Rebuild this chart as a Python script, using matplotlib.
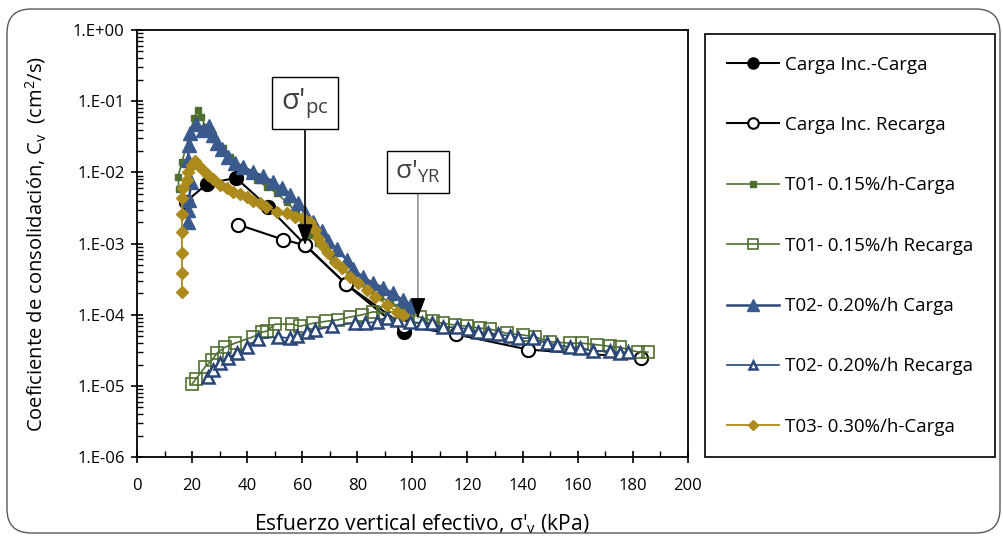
import matplotlib
matplotlib.use("Agg")
import matplotlib.pyplot as plt
from matplotlib.lines import Line2D
from matplotlib.patches import FancyBboxPatch
from matplotlib.ticker import FixedLocator, LogLocator, MultipleLocator, NullFormatter

plt.rcParams['font.family'] = ['Open Sans', 'DejaVu Sans']
plt.rcParams['mathtext.fontset'] = 'custom'
plt.rcParams['mathtext.rm'] = 'Open Sans'
plt.rcParams['mathtext.it'] = 'Open Sans:italic'
plt.rcParams['mathtext.bf'] = 'Open Sans:bold'

# --- datos ---
inc_carga_x = [17.8, 25.4, 35.9, 47.5, 61.0, 75.9, 96.9]
inc_carga_y = [3.9e-3, 6.9e-3, 8.4e-3, 3.3e-3, 9.7e-4, 2.7e-4, 5.8e-5]

inc_rec_x = [36.7, 53.0, 61.0, 75.9, 96.9, 116.0, 142.0, 183.0]
inc_rec_y = [1.85e-3, 1.14e-3, 9.5e-4, 2.7e-4, 7.0e-5, 5.3e-5, 3.25e-5, 2.5e-5]

t01_carga_x = [15.2, 14.9, 16.3, 20.7, 22.1, 23.2, 25.0, 27.6, 31.2, 33.8, 37.4, 41.0,
               43.6, 47.2, 50.8, 54.4, 57.7, 60.3, 62.8, 65.7, 68.2, 71.1, 74.0, 77.3,
               80.9, 84.6, 88.2, 91.8, 95.5, 98.4]
t01_carga_y = [5.9e-3, 8.7e-3, 1.4e-2, 5.8e-2, 7.6e-2, 6.0e-2, 4.4e-2, 2.9e-2, 2.2e-2,
               1.65e-2, 1.2e-2, 9.2e-3, 7.8e-3, 6.2e-3, 5.1e-3, 3.8e-3, 2.8e-3, 1.8e-3,
               1.3e-3, 1.02e-3, 8.3e-4, 6.3e-4, 4.9e-4, 3.6e-4, 2.8e-4, 2.2e-4, 1.8e-4,
               1.5e-4, 1.3e-4, 1.17e-4]

t01_rec_x = [20.0, 21.4, 24.7, 27.2, 29.0, 31.9, 35.6, 42.1, 45.4, 47.2, 50.1, 56.3,
             59.2, 63.9, 68.6, 73.0, 77.3, 81.7, 85.7, 89.3, 92.9, 98.0, 102.7, 107.4,
             111.0, 115.4, 119.8, 124.5, 128.1, 134.3, 140.1, 144.5, 149.9, 157.2,
             161.5, 167.0, 171.7, 175.3, 182.0, 185.5]
t01_rec_y = [1.07e-5, 1.26e-5, 1.85e-5, 2.3e-5, 2.9e-5, 3.5e-5, 4.0e-5, 4.9e-5, 5.7e-5,
             5.9e-5, 7.4e-5, 7.4e-5, 6.9e-5, 7.6e-5, 8.1e-5, 8.5e-5, 9.3e-5, 1.0e-4,
             1.1e-4, 1.07e-4, 1.1e-4, 1.07e-4, 9.3e-5, 8.2e-5, 7.6e-5, 7.2e-5, 6.9e-5,
             6.5e-5, 6.3e-5, 5.5e-5, 5.2e-5, 4.9e-5, 4.2e-5, 4.0e-5, 4.0e-5, 3.8e-5,
             3.6e-5, 3.5e-5, 3.0e-5, 3.0e-5]

t02_carga_x = [18.5, 18.5, 18.9, 19.6, 18.5, 18.9, 19.2, 21.4, 24.0, 26.1, 27.6, 29.0,
               30.9, 33.0, 35.6, 38.5, 42.1, 45.7, 49.4, 52.6, 55.5, 58.4, 61.0, 63.9,
               67.2, 69.3, 72.6, 76.2, 78.4, 82.0, 85.7, 89.3, 92.9, 96.6, 99.1]
t02_carga_y = [2.0e-3, 3.0e-3, 4.1e-3, 7.4e-3, 1.5e-2, 2.4e-2, 3.6e-2, 4.8e-2, 4.0e-2,
               4.5e-2, 3.4e-2, 2.6e-2, 2.1e-2, 1.65e-2, 1.35e-2, 1.2e-2, 1.02e-2, 8.9e-3,
               7.4e-3, 6.0e-3, 4.8e-3, 3.7e-3, 2.7e-3, 2.0e-3, 1.5e-3, 1.1e-3, 8.3e-4,
               5.9e-4, 4.4e-4, 3.4e-4, 2.8e-4, 2.4e-4, 2.0e-4, 1.6e-4, 1.33e-4]

t02_rec_x = [25.8, 27.6, 30.1, 33.0, 36.3, 39.9, 43.9, 51.2, 55.5, 58.1, 61.7, 64.6,
             70.8, 79.1, 82.8, 87.1, 90.7, 94.4, 99.1, 103.4, 107.1, 111.1, 116.2,
             120.1, 123.8, 127.4, 131.0, 135.4, 138.3, 143.7, 148.8, 152.5, 157.2,
             160.8, 165.5, 171.7, 175.3, 178.2]
t02_rec_y = [1.34e-5, 1.67e-5, 2.1e-5, 2.5e-5, 2.9e-5, 3.5e-5, 4.6e-5, 4.9e-5, 4.7e-5,
             5.0e-5, 5.7e-5, 6.1e-5, 6.9e-5, 7.7e-5, 7.7e-5, 7.9e-5, 9.1e-5, 8.5e-5,
             7.9e-5, 7.7e-5, 7.7e-5, 6.7e-5, 6.7e-5, 6.3e-5, 5.7e-5, 5.5e-5, 5.4e-5,
             5.0e-5, 4.7e-5, 4.7e-5, 4.0e-5, 3.8e-5, 3.5e-5, 3.4e-5, 3.1e-5, 3.1e-5,
             2.9e-5, 3.0e-5]

t03_carga_x = [16.3, 16.3, 16.3, 16.3, 16.3, 16.3, 16.7, 18.1, 18.5, 20.0, 21.0, 22.1,
               24.0, 25.8, 27.6, 30.1, 32.7, 34.8, 37.4, 39.9, 42.1, 44.6, 46.8, 50.8,
               54.4, 57.4, 60.3, 62.8, 64.6, 65.7, 67.2, 69.3, 71.9, 74.4, 77.3, 80.2,
               83.5, 86.4, 90.7, 94.4, 96.6]
t03_carga_y = [2.1e-4, 3.9e-4, 7.4e-4, 1.45e-3, 2.6e-3, 4.4e-3, 6.0e-3, 7.8e-3, 1.02e-2,
               1.26e-2, 1.45e-2, 1.26e-2, 1.08e-2, 9.2e-3, 8.1e-3, 6.6e-3, 6.0e-3, 5.3e-3,
               5.0e-3, 4.5e-3, 4.0e-3, 3.7e-3, 3.3e-3, 2.8e-3, 2.7e-3, 2.4e-3, 2.3e-3,
               2.0e-3, 1.55e-3, 1.2e-3, 9.5e-4, 7.4e-4, 5.5e-4, 4.6e-4, 3.4e-4, 2.8e-4,
               2.2e-4, 1.8e-4, 1.38e-4, 1.1e-4, 1.0e-4]

ytick_vals = [1e-6, 1e-5, 1e-4, 1e-3, 1e-2, 1e-1, 1e0]
ytick_labels = ["1.E-06", "1.E-05", "1.E-04", "1.E-03", "1.E-02", "1.E-01", "1.E+00"]

GREEN = "#4f7030"
BLUE = "#2a4676"
GOLD = "#ad8a1c"

fig = plt.figure(figsize=(10.04, 5.36), dpi=100)
ax = fig.add_axes([0.1365, 0.147, 0.5485, 0.797])

# marco redondeado exterior (en pixeles)
fig.patches.append(FancyBboxPatch((7, 3), 993, 524, boxstyle="round,pad=0,rounding_size=24",
                                  transform=None, fill=False, edgecolor="#595959", lw=1.0))

series = [
    dict(x=inc_carga_x, y=inc_carga_y, label="Carga Inc.-Carga", color="black", lw=1.5,
         marker="o", ms=10, mfc="black", mec="black", mew=1.0),
    dict(x=inc_rec_x, y=inc_rec_y, label="Carga Inc. Recarga", color="black", lw=1.5,
         marker="o", ms=9.5, mfc="white", mec="black", mew=1.5),
    dict(x=t01_carga_x, y=t01_carga_y, label="T01- 0.15%/h-Carga", color=GREEN, lw=1.2,
         marker="s", ms=5, mfc=GREEN, mec=GREEN, mew=1.0),
    dict(x=t01_rec_x, y=t01_rec_y, label="T01- 0.15%/h Recarga", color=GREEN, lw=1.2,
         marker="s", ms=8.5, mfc="none", mec=GREEN, mew=1.2),
    dict(x=t02_carga_x, y=t02_carga_y, label="T02- 0.20%/h Carga", color=BLUE, lw=1.8,
         marker="^", ms=10, mfc="#3a5a8e", mec="#3a5a8e", mew=1.0),
    dict(x=t02_rec_x, y=t02_rec_y, label="T02- 0.20%/h Recarga", color=BLUE, lw=1.2,
         marker="^", ms=8, mfc="white", mec=BLUE, mew=1.8),
    dict(x=t03_carga_x, y=t03_carga_y, label="T03- 0.30%/h-Carga", color=GOLD, lw=1.3,
         marker="D", ms=6.5, mfc=GOLD, mec=GOLD, mew=1.0),
]

handles = []
for i, s in enumerate(series):
    ax.plot(s["x"], s["y"], color=s["color"], lw=s["lw"], marker=s["marker"],
            ms=s["ms"], mfc=s["mfc"], mec=s["mec"], mew=s["mew"],
            label=s["label"], zorder=3 + i)
    handles.append(Line2D([], [], color=s["color"], lw=s["lw"], marker=s["marker"],
                          ms=s["ms"] * 0.8, mfc=s["mfc"], mec=s["mec"], mew=s["mew"]))

ax.set_yscale("log")
ax.set_ylim(1e-6, 1)
ax.set_xlim(0, 200)
ax.yaxis.set_major_locator(FixedLocator(ytick_vals))
ax.set_yticklabels(ytick_labels)
ax.yaxis.set_minor_locator(LogLocator(base=10, subs=range(2, 10), numticks=20))
ax.yaxis.set_minor_formatter(NullFormatter())
ax.xaxis.set_major_locator(MultipleLocator(20))
ax.xaxis.set_minor_locator(MultipleLocator(10))

ax.tick_params(which="major", direction="inout", length=8, width=1.2, labelsize=12,
               colors="black", pad=5)
ax.tick_params(axis="x", which="major", pad=11)
ax.tick_params(which="minor", direction="in", length=4, width=1.0)
for sp in ax.spines.values():
    sp.set_linewidth(1.3)

ax.set_xlabel("Esfuerzo vertical efectivo, σ'$_\\mathrm{v}$ (kPa)", fontsize=15.2, labelpad=12)
ax.xaxis.set_label_coords(0.517, -0.13)
ax.set_ylabel("Coeficiente de consolidación, C$_\\mathrm{v}$  (cm$^\\mathrm{2}$/s)",
              fontsize=14.5, labelpad=18)

# anotaciones
ax.annotate("σ'$_\\mathrm{pc}$", xy=(61, 9.5e-4), xytext=(61, 0.094), fontsize=21,
            color="#404040", ha="center", va="center", zorder=20,
            bbox=dict(boxstyle="square,pad=0.3", fc="white", ec="black", lw=1.0),
            arrowprops=dict(arrowstyle="-|>,head_length=0.8,head_width=0.3", color="black",
                            lw=1.2, relpos=(0.5, 0), shrinkA=0, shrinkB=0, mutation_scale=16))
ax.annotate("σ'$_\\mathrm{YR}$", xy=(102, 9.0e-5), xytext=(102, 1.02e-2), fontsize=19,
            color="#404040", ha="center", va="center", zorder=20,
            bbox=dict(boxstyle="square,pad=0.3", fc="white", ec="black", lw=1.0),
            arrowprops=dict(arrowstyle="-", color="#7f7f7f", lw=1.0, relpos=(0.5, 0),
                            shrinkA=0, shrinkB=0))
ax.annotate("", xy=(102, 9.0e-5), xytext=(102, 1.6e-4), zorder=21,
            arrowprops=dict(arrowstyle="-|>,head_length=0.8,head_width=0.3", color="black",
                            lw=0.8, shrinkA=0, shrinkB=0, mutation_scale=16))

leg = fig.legend(handles, [s["label"] for s in series], loc="upper left",
                 bbox_to_anchor=(705 / 1004, 1 - 34 / 536), fontsize=13.5, frameon=True,
                 fancybox=False, edgecolor="black", framealpha=1, labelspacing=2.26,
                 handlelength=2.8, handletextpad=0.3, borderpad=1.15, borderaxespad=0)
leg.get_frame().set_linewidth(1.2)

fig.savefig("out.png", dpi=100)
